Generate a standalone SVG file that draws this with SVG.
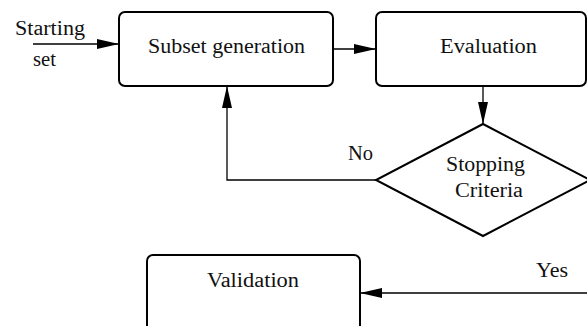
<svg xmlns="http://www.w3.org/2000/svg" width="587" height="326" viewBox="0 0 587 326">
<style>
.box{fill:#fff;stroke:#000;stroke-width:2}
.line{fill:none;stroke:#000;stroke-width:1.3}
.t{font-family:'Liberation Serif','DejaVu Serif',serif;font-size:20px;fill:#111}
</style>
<defs>
<marker id="arr" markerUnits="userSpaceOnUse" markerWidth="22" markerHeight="10" refX="22" refY="5" orient="auto">
<path d="M0,0 L22,5 L0,10 z" fill="#000"/>
</marker>
</defs>
<rect width="587" height="326" fill="#fff"/>
<g id="connectors">
<path class="line" d="M33,44 L119,44" marker-end="url(#arr)"/>
<path class="line" d="M333,49 L376,49" marker-end="url(#arr)"/>
<path class="line" d="M483,86 L483,124" marker-end="url(#arr)"/>
<path class="line" d="M376,180 L227,180 L227,86" marker-end="url(#arr)"/>
<path class="line" d="M590,293 L360,293" marker-end="url(#arr)"/>
<text class="t" font-family="Liberation Serif, serif" x="15" y="35" textLength="70" lengthAdjust="spacingAndGlyphs">Starting</text>
<text class="t" font-family="Liberation Serif, serif" x="33" y="66" textLength="23" lengthAdjust="spacingAndGlyphs">set</text>
<text class="t" font-family="Liberation Serif, serif" x="348" y="160" textLength="25" lengthAdjust="spacingAndGlyphs">No</text>
<text class="t" font-family="Liberation Serif, serif" x="536" y="277" textLength="32" lengthAdjust="spacingAndGlyphs">Yes</text>
</g>
<g id="subset">
<rect class="box" x="119" y="12" width="214" height="74" rx="6"/>
<text class="t" font-family="Liberation Serif, serif" x="148" y="53" textLength="157" lengthAdjust="spacingAndGlyphs">Subset generation</text>
</g>
<g id="evaluation">
<rect class="box" x="376" y="12" width="210" height="74" rx="6"/>
<text class="t" font-family="Liberation Serif, serif" x="440" y="53" textLength="97" lengthAdjust="spacingAndGlyphs">Evaluation</text>
</g>
<g id="stopping">
<polygon class="box" points="483,124 590,180 483,236 376,180"/>
<text class="t" font-family="Liberation Serif, serif" x="446" y="171" textLength="79" lengthAdjust="spacingAndGlyphs">Stopping</text>
<text class="t" font-family="Liberation Serif, serif" x="455" y="197" textLength="68" lengthAdjust="spacingAndGlyphs">Criteria</text>
</g>
<g id="validation">
<rect class="box" x="147" y="255" width="213" height="85" rx="6"/>
<text class="t" font-family="Liberation Serif, serif" x="207" y="287" textLength="92" lengthAdjust="spacingAndGlyphs">Validation</text>
</g>
</svg>
